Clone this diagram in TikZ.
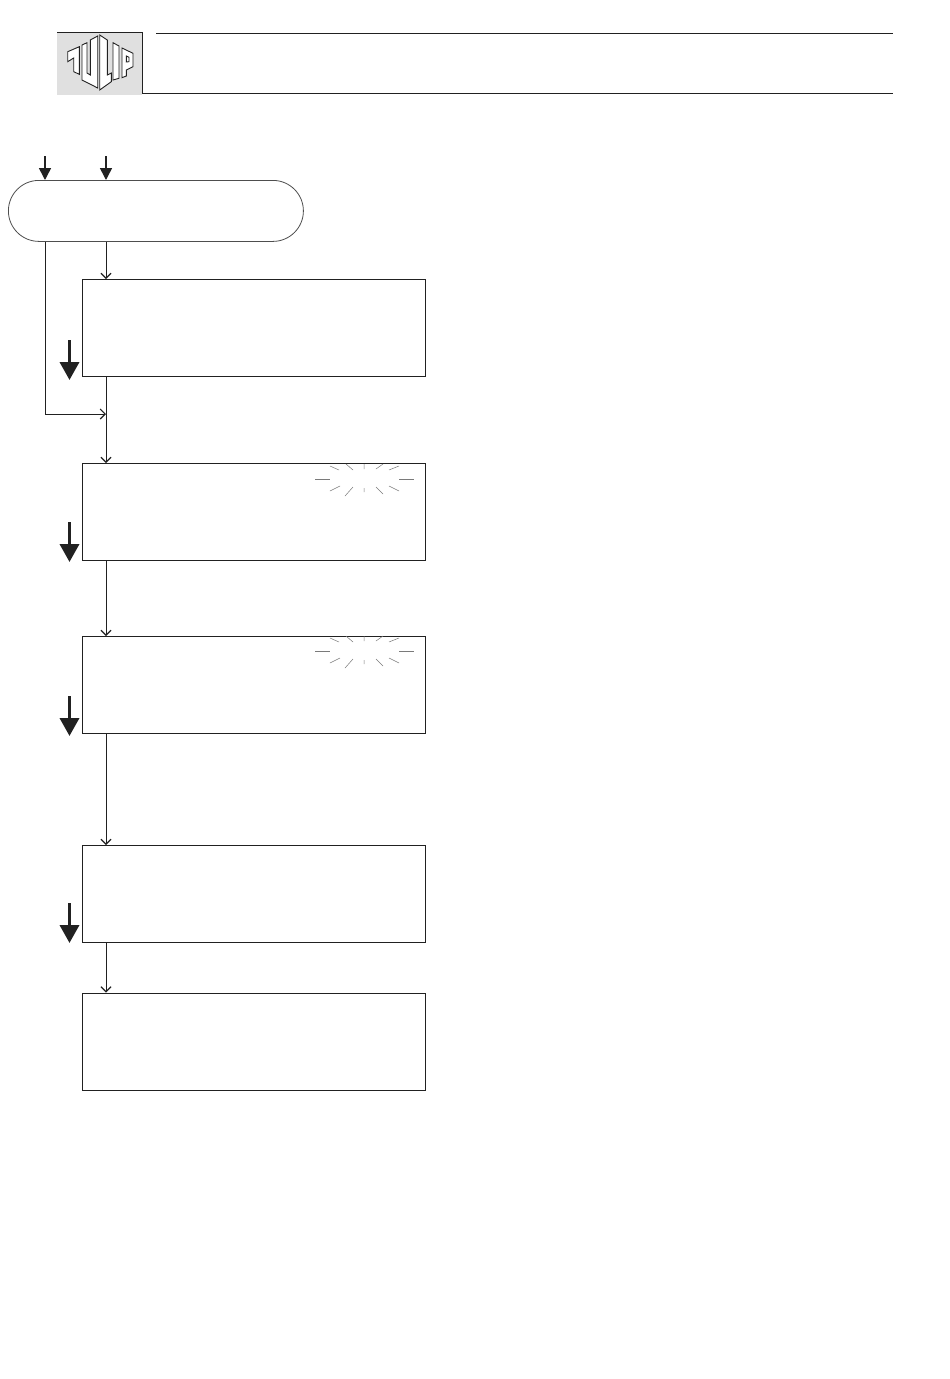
\documentclass[tikz,border=0pt]{standalone}
\usetikzlibrary{arrows.meta,calc}
\definecolor{ink}{gray}{0.13}
\definecolor{logogrey}{gray}{0.88}
\tikzset{
  x=1pt,y=-1pt,
  flowbox/.style={draw=ink,line width=0.9pt,fill=white,rectangle,minimum width=343pt,minimum height=97pt,inner sep=0pt,anchor=north west},
  terminator/.style={draw=ink!80,line width=0.8pt,fill=white,rectangle,rounded corners=30.5pt,minimum width=295pt,minimum height=61pt,inner sep=0pt,anchor=north west},
  flow/.style={draw=ink,line width=0.9pt,-{Straight Barb[length=5pt,width=10pt,line width=1.1pt]}},
  entry/.style={draw=ink,line width=1.6pt,-{Triangle[length=12pt,width=12pt]}},
  stepmark/.style={draw=ink,line width=3.6pt,-{Triangle[length=18pt,width=19pt]}},
  rule/.style={draw=ink,line width=0.8pt},
  burst/.style={draw=ink!60,line width=0.5pt},
  letter/.style={draw=ink,line width=0.9pt,fill=white,line join=miter},
  pics/flash/.style={code={
    \draw[burst,line width=0.7pt] (315,479.5) -- (330,479.5) (399,479.5) -- (414,479.5);
    \draw[burst] (330,466) -- (339,470) (346,464) -- (353,470) (364,464) -- (364,469)
      (376,469) -- (383,464) (389,470) -- (399,466)
      (330,491) -- (340,486) (345,496) -- (353,487) (364,488) -- (364,492)
      (376,487) -- (383,494) (389,486) -- (399,491);
  }}
}
\begin{document}
\begin{tikzpicture}
\useasboundingbox (0,0) rectangle (950,1379);
\fill[white] (0,0) rectangle (950,1379);
% header
\fill[logogrey] (57,32) rectangle (142,95);
\draw[rule] (57,32) -- (142,32) -- (142,93.5) -- (893,93.5);
\draw[rule] (156,33.5) -- (893,33.5);
% logo letters
\draw[letter] (67.7,51.7) -- (79.3,46.7) -- (79.3,74.3) -- (73.7,71.7) -- (73.7,58) -- (67.7,61.7) -- cycle;
\draw[letter] (82,45) -- (87,42.7) -- (87,73) -- (90.3,75) -- (90.3,40) -- (97.7,36) -- (97.7,88) -- (82,80) -- cycle;
\draw[letter] (99.7,35) -- (107.3,40) -- (107.3,75) -- (111.3,73) -- (111.3,81.7) -- (99.7,90) -- cycle;
\draw[letter] (113,42.7) -- (119,46) -- (119,78.3) -- (113,80) -- cycle;
\draw[letter] (122,48) -- (133,53.3) -- (133,66.7) -- (126.3,70) -- (126.3,76) -- (122,77.7) -- cycle;
\draw[letter] (126.3,56) -- (129,57.3) -- (129,61.7) -- (126.3,62) -- cycle;
% nodes
\node[terminator] (start) at (8,180) {};
\node[flowbox] (a) at (82,279) {};
\node[flowbox] (b) at (82,463) {};
\node[flowbox] (c) at (82,636) {};
\node[flowbox] (d) at (82,845) {};
\node[flowbox] (e) at (82,992.5) {};
\coordinate (mainx) at (106,0);
\coordinate (sidex) at (45,0);
\coordinate (in1) at (45,156);
\coordinate (in2) at (106,156);
\coordinate (join) at (106,414);
% connectors
\draw[flow] (start.south -| mainx) -- (a.north -| mainx);
\draw[flow] (start.south -| sidex) -- (sidex |- join) -- (join);
\draw[flow] (a.south -| mainx) -- (b.north -| mainx);
\draw[flow] (b.south -| mainx) -- (c.north -| mainx);
\draw[flow] (c.south -| mainx) -- (d.north -| mainx);
\draw[flow] (d.south -| mainx) -- (e.north -| mainx);
\draw[entry] (in1) -- (in1 |- start.north);
\draw[entry] (in2) -- (in2 |- start.north);
% step arrows
\coordinate (s1a) at (69.5,340); \coordinate (s1b) at (69.5,380);
\coordinate (s2a) at (69.5,522); \coordinate (s2b) at (69.5,562);
\coordinate (s3a) at (69.5,696); \coordinate (s3b) at (69.5,736);
\coordinate (s4a) at (69.5,903); \coordinate (s4b) at (69.5,943);
\draw[stepmark] (s1a) -- (s1b);
\draw[stepmark] (s2a) -- (s2b);
\draw[stepmark] (s3a) -- (s3b);
\draw[stepmark] (s4a) -- (s4b);
% flashing marks
\pic at (0,0) {flash};
\pic at (0,172) {flash};
\end{tikzpicture}
\end{document}
